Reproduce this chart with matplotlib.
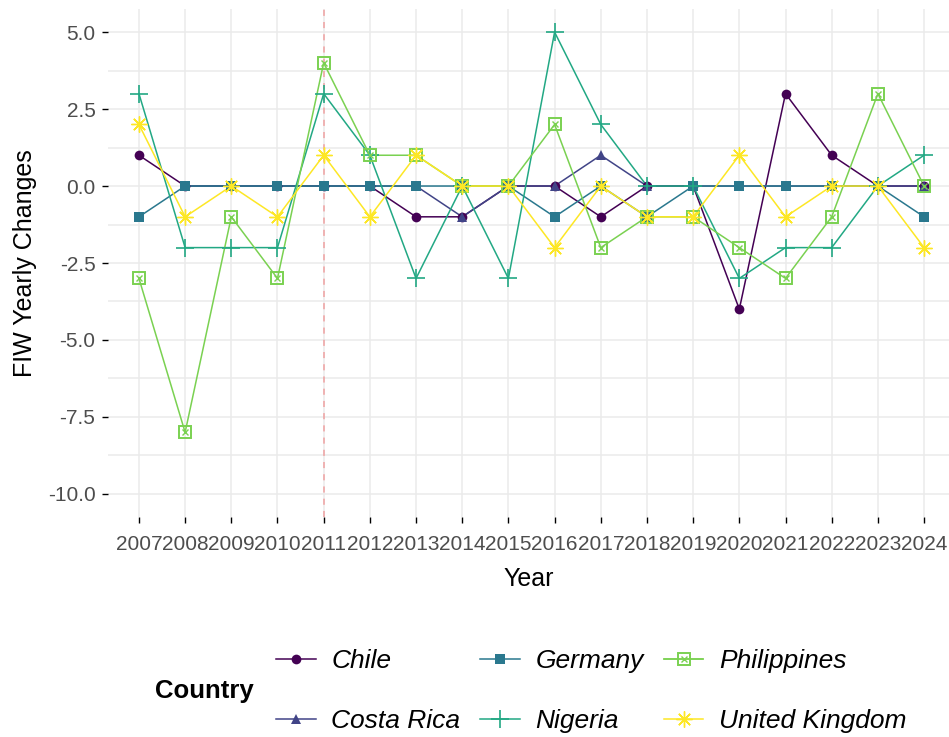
import numpy as np
import matplotlib
matplotlib.use("Agg")
import matplotlib.pyplot as plt
from matplotlib.lines import Line2D

plt.rcParams["font.family"] = ["Liberation Sans", "DejaVu Sans"]

years = list(range(2007, 2025))
nan = np.nan

chile = [1, 0, 0, 0, 0, 0, -1, -1, 0, 0, -1, 0, 0, -4, 3, 1, 0, 0]
costa_rica = [nan, 0, 0, 0, 0, 0, 0, -1, 0, 0, 1, 0, 0, 0, 0, 0, 0, 0]
germany = [-1, 0, 0, 0, 0, 0, 0, 0, 0, -1, 0, -1, 0, 0, 0, 0, 0, -1]
nigeria = [3, -2, -2, -2, 3, 1, -3, 0, -3, 5, 2, 0, 0, -3, -2, -2, 0, 1]
philippines = [-3, -8, -1, -3, 4, 1, 1, 0, 0, 2, -2, -1, -1, -2, -3, -1, 3, 0]
united_kingdom = [2, -1, 0, -1, 1, -1, 1, 0, 0, -2, 0, -1, -1, 1, -1, 0, 0, -2]

countries = ["Chile", "Costa Rica", "Germany", "Nigeria", "Philippines", "United Kingdom"]
series = [chile, costa_rica, germany, nigeria, philippines, united_kingdom]
colors = ["#440154", "#414487", "#2A788E", "#22A884", "#7AD151", "#FDE725"]

y_ticks = [-10.0, -7.5, -5.0, -2.5, 0.0, 2.5, 5.0]
y_minor = [-8.75, -6.25, -3.75, -1.25, 1.25, 3.75]
marker_year = 2011

W, H = 949, 737
fig = plt.figure(figsize=(W / 100, H / 100), dpi=100)
left_px, right_px, top_px, bottom_px = 108, 949, 9, 517
ax = fig.add_axes([left_px / W, 1 - bottom_px / H,
                   (right_px - left_px) / W, (bottom_px - top_px) / H])

# marker styles per country (point + optional overlay)
styles = {
    "Chile": [dict(marker="o", ms=7, mew=0)],
    "Costa Rica": [dict(marker="^", ms=7.5, mew=0)],
    "Germany": [dict(marker="s", ms=7, mew=0)],
    "Nigeria": [dict(marker="+", ms=12.5, mew=1.2)],
    "Philippines": [dict(marker="s", ms=8.5, mfc="none", mew=1.4),
                    dict(marker="x", ms=4.5, mew=1.0)],
    "United Kingdom": [dict(marker=(8, 2, 0), ms=11.5, mew=1.0)],
}

handles = []
for name, vals, col in zip(countries, series, colors):
    ax.plot(years, vals, color=col, lw=1.1, zorder=2)
for name, vals, col in zip(countries, series, colors):
    hs = []
    for st in styles[name]:
        st = dict(st)
        mfc = st.pop("mfc", col)
        ax.plot(years, vals, linestyle="none", color=col, mfc=mfc, mec=col,
                zorder=3, **st)
        hs.append(Line2D([], [], color=col, lw=1.1, mfc=mfc, mec=col, **st))
    handles.append(tuple(hs) if len(hs) > 1 else hs[0])

ax.axvline(marker_year, color="#F08080", alpha=0.7, lw=1.1, dashes=(4, 4), zorder=1.5)

ax.set_xlim(2006.33, 2024.54)
ax.set_ylim(-10.75, 5.75)
ax.set_xticks(years)
ax.set_xticklabels([str(y) for y in years])
ax.set_yticks(y_ticks)
ax.set_yticklabels([f"{v:.1f}" for v in y_ticks])
ax.set_yticks(y_minor, minor=True)

ax.grid(True, which="major", color="#EBEBEB", lw=1.1, zorder=0)
ax.grid(True, which="minor", axis="y", color="#EBEBEB", lw=1.1, zorder=0)
ax.set_axisbelow(True)
for s in ax.spines.values():
    s.set_visible(False)

ax.tick_params(axis="both", which="major", length=4.5, width=1.0, color="black",
               labelsize=15, labelcolor="#4D4D4D")
ax.tick_params(axis="x", which="major", pad=8.5)
ax.tick_params(axis="y", which="major", pad=4.5)
ax.tick_params(axis="y", which="minor", length=0)

ax.set_xlabel("Year", fontsize=18, labelpad=9)
ax.set_ylabel("FIW Yearly Changes", fontsize=18, labelpad=7.5)

fig.text(155 / W, 1 - 691 / H, "Country", fontsize=18.5, fontweight="bold",
         ha="left", va="center")
leg = fig.legend(handles, countries, ncol=3, loc="center left",
                 bbox_to_anchor=(276 / W, 1 - 691 / H), frameon=False,
                 prop=dict(size=19, style="italic"), handlelength=1.5,
                 handletextpad=0.6, columnspacing=0.75, labelspacing=1.38,
                 borderpad=0, borderaxespad=0)

fig.savefig("out.png", dpi=100)
